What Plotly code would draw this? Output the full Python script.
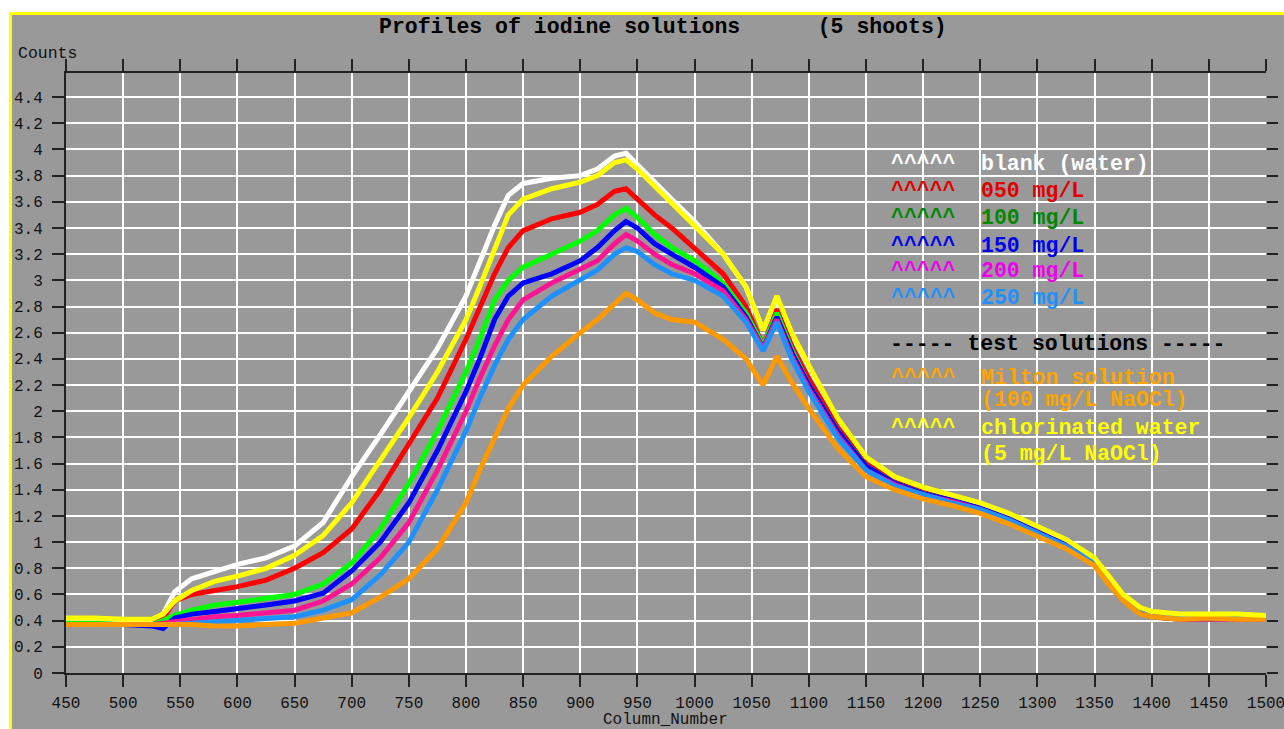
import plotly.graph_objects as go

# Column positions (pixel columns of the detector) where each profile is sampled
columns = [450, 475, 500, 525, 535, 545, 560, 580, 600, 625,
           650, 675, 700, 725, 750, 775, 800, 812, 825, 837,
           850, 875, 900, 915, 930, 940, 950, 965, 980, 1000,
           1025, 1045, 1060, 1072, 1085, 1100, 1125, 1150, 1175, 1200,
           1225, 1250, 1275, 1300, 1325, 1350, 1362, 1375, 1390, 1400,
           1425, 1450, 1475, 1500]

# Counts per column for each solution (mean of the 5 shoots)
blank_water = [0.38, 0.39, 0.38, 0.39, 0.45, 0.62, 0.72, 0.78, 0.83, 0.88,
               0.97, 1.15, 1.50, 1.82, 2.15, 2.48, 2.88, 3.15, 3.42, 3.65,
               3.74, 3.78, 3.80, 3.85, 3.95, 3.97, 3.88, 3.75, 3.62, 3.45,
               3.20, 2.95, 2.62, 2.85, 2.55, 2.30, 1.92, 1.62, 1.48, 1.40,
               1.34, 1.28, 1.20, 1.10, 1.00, 0.87, 0.72, 0.58, 0.47, 0.44,
               0.42, 0.42, 0.42, 0.42]
iodine_050 = [0.37, 0.37, 0.37, 0.37, 0.42, 0.55, 0.60, 0.63, 0.66, 0.71,
              0.80, 0.92, 1.10, 1.40, 1.75, 2.10, 2.55, 2.80, 3.05, 3.25,
              3.38, 3.47, 3.52, 3.58, 3.68, 3.70, 3.62, 3.50, 3.40, 3.25,
              3.05, 2.80, 2.50, 2.78, 2.50, 2.25, 1.88, 1.60, 1.46, 1.38,
              1.32, 1.26, 1.18, 1.08, 0.98, 0.85, 0.70, 0.56, 0.46, 0.43,
              0.41, 0.41, 0.41, 0.41]
iodine_100 = [0.38, 0.38, 0.37, 0.37, 0.40, 0.44, 0.48, 0.52, 0.54, 0.57,
              0.60, 0.68, 0.84, 1.10, 1.45, 1.85, 2.30, 2.55, 2.85, 3.00,
              3.10, 3.20, 3.30, 3.38, 3.50, 3.55, 3.48, 3.35, 3.25, 3.15,
              2.98, 2.75, 2.50, 2.75, 2.47, 2.20, 1.85, 1.58, 1.45, 1.37,
              1.32, 1.26, 1.18, 1.08, 0.98, 0.85, 0.70, 0.56, 0.46, 0.43,
              0.41, 0.41, 0.41, 0.41]
iodine_150 = [0.37, 0.37, 0.37, 0.36, 0.34, 0.42, 0.45, 0.47, 0.49, 0.52,
              0.55, 0.61, 0.78, 1.00, 1.30, 1.70, 2.15, 2.40, 2.70, 2.88,
              2.98, 3.05, 3.15, 3.25, 3.38, 3.45, 3.40, 3.28, 3.20, 3.10,
              2.95, 2.72, 2.48, 2.72, 2.45, 2.20, 1.85, 1.58, 1.45, 1.37,
              1.32, 1.26, 1.18, 1.08, 0.98, 0.85, 0.72, 0.57, 0.47, 0.44,
              0.42, 0.42, 0.42, 0.42]
iodine_200 = [0.37, 0.37, 0.37, 0.37, 0.38, 0.39, 0.41, 0.43, 0.44, 0.46,
              0.48, 0.55, 0.68, 0.88, 1.15, 1.55, 2.00, 2.25, 2.50, 2.70,
              2.85, 2.98, 3.08, 3.15, 3.28, 3.35, 3.30, 3.20, 3.12, 3.05,
              2.92, 2.70, 2.48, 2.70, 2.42, 2.17, 1.82, 1.55, 1.44, 1.36,
              1.31, 1.25, 1.17, 1.07, 0.97, 0.84, 0.70, 0.56, 0.46, 0.43,
              0.41, 0.41, 0.41, 0.41]
iodine_250 = [0.37, 0.37, 0.37, 0.37, 0.37, 0.37, 0.38, 0.39, 0.40, 0.42,
              0.43, 0.48, 0.56, 0.75, 1.00, 1.40, 1.85, 2.10, 2.35, 2.55,
              2.70, 2.88, 3.00, 3.08, 3.20, 3.25, 3.22, 3.12, 3.05, 3.00,
              2.88, 2.68, 2.46, 2.68, 2.40, 2.15, 1.80, 1.55, 1.43, 1.36,
              1.30, 1.25, 1.17, 1.07, 0.97, 0.84, 0.68, 0.55, 0.46, 0.43,
              0.42, 0.42, 0.42, 0.42]
milton = [0.37, 0.37, 0.37, 0.37, 0.37, 0.37, 0.37, 0.36, 0.36, 0.37,
          0.38, 0.42, 0.46, 0.58, 0.72, 0.95, 1.30, 1.55, 1.80, 2.02,
          2.20, 2.42, 2.60, 2.70, 2.82, 2.90, 2.85, 2.75, 2.70, 2.68,
          2.55, 2.40, 2.20, 2.42, 2.22, 2.02, 1.72, 1.50, 1.40, 1.33,
          1.28, 1.22, 1.14, 1.05, 0.95, 0.82, 0.68, 0.55, 0.45, 0.43,
          0.41, 0.42, 0.41, 0.41]
chlorinated = [0.42, 0.42, 0.41, 0.41, 0.45, 0.55, 0.63, 0.70, 0.74, 0.80,
               0.90, 1.05, 1.30, 1.62, 1.95, 2.30, 2.70, 2.95, 3.25, 3.50,
               3.62, 3.70, 3.75, 3.80, 3.90, 3.92, 3.85, 3.72, 3.60, 3.42,
               3.20, 2.95, 2.62, 2.88, 2.60, 2.35, 1.95, 1.65, 1.50, 1.42,
               1.36, 1.30, 1.22, 1.12, 1.02, 0.88, 0.74, 0.60, 0.50, 0.47,
               0.45, 0.45, 0.45, 0.44]

y_ticks = [round(0.2 * i, 1) for i in range(23)]

# series drawn in this order (later ones on top)
profiles = [
    ("blank (water)", blank_water, "#FFFFFF"),
    ("050 mg/L", iodine_050, "#FF0000"),
    ("100 mg/L", iodine_100, "#00FF00"),
    ("150 mg/L", iodine_150, "#0000FF"),
    ("200 mg/L", iodine_200, "#FF1493"),
    ("250 mg/L", iodine_250, "#1E90FF"),
    ("Milton solution", milton, "#FF9900"),
    ("chlorinated water", chlorinated, "#FFFF00"),
]

W, H = 1284, 729
ML, MR, MT, MB = 66, 18, 73, 56
PW, PH = W - ML - MR, H - MT - MB


def px_x(px):
    return (px - ML) / PW


def px_y(py):
    return (H - MB - py) / PH


MONO = "Courier New, Liberation Mono, monospace"
BG = "#999999"

fig = go.Figure()
for name, vals, color in profiles:
    fig.add_trace(go.Scatter(x=columns, y=vals, mode="lines", name=name,
                             line=dict(color=color, width=5),
                             showlegend=False))

# helper trace so the right-hand tick axis gets drawn
fig.add_trace(go.Scatter(x=[columns[0]], y=[None], yaxis="y2",
                         showlegend=False, hoverinfo="skip"))

tick_font = dict(family=MONO, size=16, color="#111111")
fig.update_layout(
    width=W, height=H, autosize=False,
    margin=dict(l=ML, r=MR, t=MT, b=MB, pad=0, autoexpand=False),
    paper_bgcolor=BG, plot_bgcolor=BG,
    xaxis=dict(range=[450, 1500], tick0=450, dtick=50, automargin=False,
               ticks="outside", ticklen=12, tickwidth=2, tickcolor="#222222",
               showline=True, linecolor="#222222", linewidth=2, mirror="ticks",
               showgrid=True, gridcolor="#FFFFFF", gridwidth=2,
               zeroline=False, tickfont=tick_font, ticklabelstandoff=2,
               ticklabeloverflow="allow"),
    yaxis=dict(range=[0, 4.584], tickmode="array", tickvals=y_ticks,
               automargin=False,
               ticks="outside", ticklen=12, tickwidth=2, tickcolor="#222222",
               showline=True, linecolor="#222222", linewidth=2,
               showgrid=True, gridcolor="#FFFFFF", gridwidth=2,
               zeroline=False, tickfont=tick_font, ticklabelstandoff=6),
    yaxis2=dict(range=[0, 4.584], overlaying="y", side="right",
                automargin=False,
                tickmode="array", tickvals=y_ticks, showticklabels=False,
                ticks="outside", ticklen=11, tickwidth=2, tickcolor="#222222",
                showline=False, showgrid=False, zeroline=False),
)

# window frame: white margin with a yellow edge along the top and left
shapes = [
    dict(type="rect", xref="paper", yref="paper", x0=px_x(-20), x1=px_x(W + 20),
         y0=px_y(-20), y1=px_y(12), fillcolor="#FFFFFF", line_width=0, layer="above"),
    dict(type="rect", xref="paper", yref="paper", x0=px_x(-20), x1=px_x(9),
         y0=px_y(-20), y1=px_y(H + 20), fillcolor="#FFFFFF", line_width=0, layer="above"),
    dict(type="rect", xref="paper", yref="paper", x0=px_x(9), x1=px_x(W + 20),
         y0=px_y(12), y1=px_y(15), fillcolor="#FFFF00", line_width=0, layer="above"),
    dict(type="rect", xref="paper", yref="paper", x0=px_x(9), x1=px_x(12),
         y0=px_y(12), y1=px_y(H + 20), fillcolor="#FFFF00", line_width=0, layer="above"),
]
fig.update_layout(shapes=shapes)

NB = "\u00a0"
annotations = [
    dict(text="<b>Profiles of iodine solutions" + NB * 6 + "(5 shoots)</b>",
         x=px_x(663), y=px_y(27), xanchor="center", yanchor="middle",
         font=dict(family=MONO, size=21.5, color="#000000")),
    dict(text="Counts", x=px_x(16), y=px_y(54), xanchor="left", yanchor="middle",
         font=dict(family=MONO, size=16.5, color="#111111")),
    dict(text="Column_Number", x=px_x(665), y=px_y(720), xanchor="center",
         yanchor="middle", font=dict(family=MONO, size=16, color="#111111")),
]

legend_rows = [
    ("blank (water)", "#FFFFFF", 163.7),
    ("050 mg/L", "#E00000", 191),
    ("100 mg/L", "#008800", 218.3),
    ("150 mg/L", "#0000EE", 246),
    ("200 mg/L", "#EE00EE", 271),
    ("250 mg/L", "#1E90FF", 297.7),
    ("Milton solution", "#FFA500", 377.7),
    ("chlorinated water", "#FFFF00", 428.3),
]
for label, color, ypx in legend_rows:
    annotations.append(dict(text="<b>^^^^^</b>", x=px_x(889), y=px_y(ypx),
                            xanchor="left", yanchor="middle",
                            font=dict(family=MONO, size=21.5, color=color)))
    annotations.append(dict(text="<b>" + label.replace(" ", NB) + "</b>",
                            x=px_x(979), y=px_y(ypx),
                            xanchor="left", yanchor="middle",
                            font=dict(family=MONO, size=21.5, color=color)))

sub_rows = [
    ("(100 mg/L NaOCl)", "#FFA500", 400.3),
    ("(5 mg/L NaOCl)", "#FFFF00", 453.7),
]
for label, color, ypx in sub_rows:
    annotations.append(dict(text="<b>" + label.replace(" ", NB) + "</b>",
                            x=px_x(979), y=px_y(ypx),
                            xanchor="left", yanchor="middle",
                            font=dict(family=MONO, size=21.5, color=color)))

annotations.append(dict(text="<b>-----" + NB + "test" + NB + "solutions" + NB + "-----</b>",
                        x=px_x(888), y=px_y(343.7), xanchor="left", yanchor="middle",
                        font=dict(family=MONO, size=21.5, color="#000000")))

for a in annotations:
    a.update(xref="paper", yref="paper", showarrow=False)
fig.update_layout(annotations=annotations)

fig.write_html("out.html")
